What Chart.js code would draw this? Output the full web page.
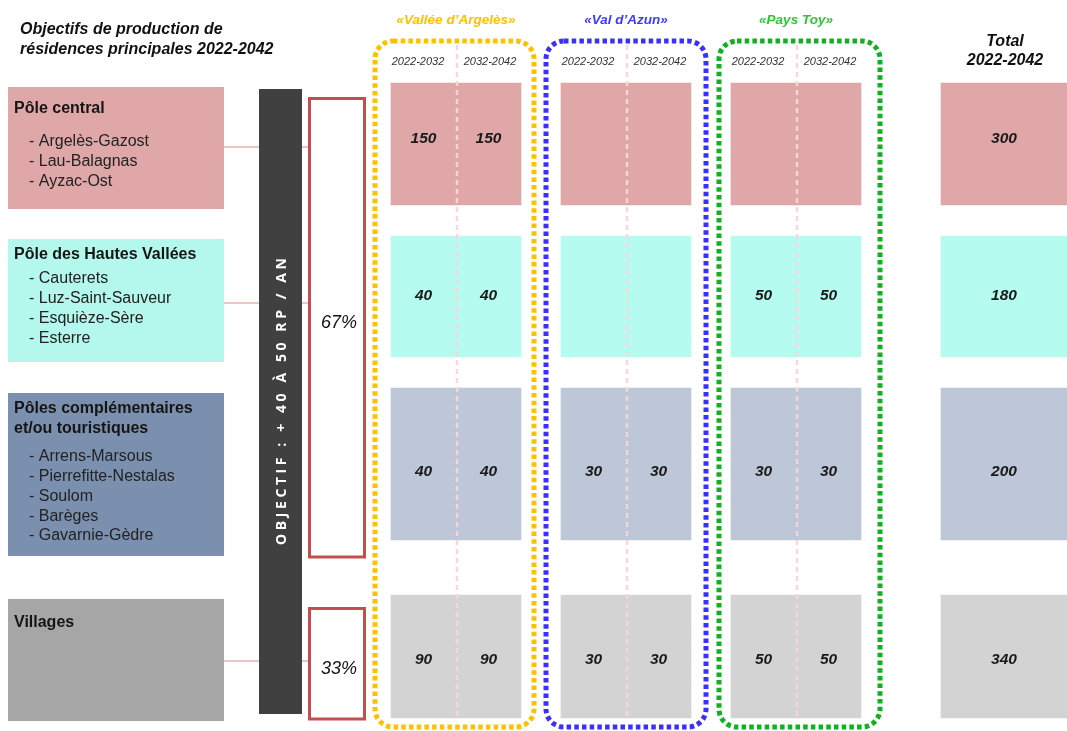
<!DOCTYPE html>
<html lang="fr">
<head>
<meta charset="utf-8">
<title>Objectifs de production de résidences principales 2022-2042</title>
<script src="https://cdn.jsdelivr.net/npm/chart.js@4"></script>
<style>
  html, body { margin: 0; padding: 0; background: #fff; }
  #wrap { width: 1067px; height: 731px; position: relative; }
</style>
</head>
<body>
<div id="wrap"><canvas id="myChart"></canvas></div>
<script>
var titre = ["Objectifs de production de", "résidences principales 2022-2042"];
var poles = ["Pôle central", "Pôle des Hautes Vallées", "Pôles complémentaires\net/ou touristiques", "Villages"];
var communes = [
  ["Argelès-Gazost", "Lau-Balagnas", "Ayzac-Ost"],
  ["Cauterets", "Luz-Saint-Sauveur", "Esquièze-Sère", "Esterre"],
  ["Arrens-Marsous", "Pierrefitte-Nestalas", "Soulom", "Barèges", "Gavarnie-Gèdre"],
  []
];
var secteurs = ["«Vallée d’Argelès»", "«Val d’Azun»", "«Pays Toy»"];
var periodes = ["2022-2032", "2032-2042"];

var argeles2232 = [150, 40, 40, 90];
var argeles3242 = [150, 40, 40, 90];
var azun2232 = [null, null, 30, 30];
var azun3242 = [null, null, 30, 30];
var toy2232 = [null, 50, 30, 50];
var toy3242 = [null, 50, 30, 50];
var total = [300, 180, 200, 340];

var parts = ["67%", "33%"];
var objectif = "OBJECTIF : + 40 À 50 RP / AN";
var totalTitre = ["Total", "2022-2042"];

// mise en page (unites = pixels de l'image)
var rangees = [[83, 205], [236, 357], [388, 540], [595, 718]];
var decalTexte = [-5, -1, 8, 3];
var boites = [[87, 209], [239, 362], [393, 556], [599, 721]];
var titreY = [109, 255, 409, 623];
var listeY = [142, 279, 457, 0];
var liens = [147, 303, null, 661];
var couleursBoite = ["#dfa7a7", "#b4f7ec", "#7b90ae", "#a6a6a6"];
var couleursCase = ["#dfa7a7", "#b6fbef", "#bdc7d7", "#d3d3d3"];
var gauches = [391, 561, 731];
var largeurCol = 65;
var cadres = [[375, 534, "#ffc000", "#ffc000"], [546, 706, "#3b2ffc", "#3b3bff"], [719, 880, "#10b020", "#33c433"]];
var totalX = 941, totalL = 126;

var colonnes = [argeles2232, argeles3242, azun2232, azun3242, toy2232, toy3242];
var centresCol = [];
gauches.forEach(function (g) {
  centresCol.push(g + largeurCol / 2, g + largeurCol * 1.5);
});

var FONT = '"Liberation Sans", Arial, sans-serif';

var datasets = [];
poles.forEach(function (p, r) {
  datasets.push({
    label: p,
    data: colonnes.map(function (serie, c) {
      return { x: centresCol[c], y: rangees[r], v: serie[r] };
    }),
    backgroundColor: couleursCase[r],
    borderWidth: 0,
    barThickness: largeurCol,
    stack: "cases",
    rangee: r
  });
  datasets.push({
    label: p + " total",
    data: [{ x: totalX + totalL / 2, y: rangees[r], v: total[r] }],
    backgroundColor: couleursCase[r],
    borderWidth: 0,
    barThickness: totalL,
    stack: "cases",
    rangee: r
  });
});

function cadreArrondi(ctx, x0, y0, x1, y1, r) {
  ctx.beginPath();
  ctx.moveTo(x0 + r, y0);
  ctx.arcTo(x1, y0, x1, y1, r);
  ctx.arcTo(x1, y1, x0, y1, r);
  ctx.arcTo(x0, y1, x0, y0, r);
  ctx.arcTo(x0, y0, x1, y0, r);
  ctx.closePath();
}

var decor = {
  id: "decor",
  beforeDatasetsDraw: function (chart) {
    var ctx = chart.ctx, X = chart.scales.x, Y = chart.scales.y;
    var px = function (v) { return X.getPixelForValue(v); };
    var py = function (v) { return Y.getPixelForValue(v); };
    ctx.save();
    ctx.textBaseline = "middle";

    // titre
    ctx.fillStyle = "#111";
    ctx.textAlign = "left";
    ctx.font = "italic bold 16px " + FONT;
    titre.forEach(function (t, i) { ctx.fillText(t, px(20), py(30 + i * 20)); });

    // boites de gauche
    poles.forEach(function (p, r) {
      var b = boites[r];
      ctx.fillStyle = couleursBoite[r];
      ctx.fillRect(px(8), py(b[0]), px(224) - px(8), py(b[1]) - py(b[0]));
      ctx.fillStyle = "#151515";
      ctx.font = "bold 16px " + FONT;
      p.split("\n").forEach(function (l, i) { ctx.fillText(l, px(14), py(titreY[r] + i * 19.5)); });
      ctx.font = "16px " + FONT;
      ctx.fillStyle = "#222";
      communes[r].forEach(function (c, i) { ctx.fillText("- " + c, px(29), py(listeY[r] + i * 19.7)); });
    });

    // liens
    ctx.strokeStyle = "#d98c8c";
    ctx.lineWidth = 1.2;
    liens.forEach(function (y) {
      if (y === null) return;
      ctx.beginPath();
      ctx.moveTo(px(224), py(y)); ctx.lineTo(px(259), py(y));
      ctx.moveTo(px(302), py(y)); ctx.lineTo(px(309), py(y));
      ctx.stroke();
    });

    // barre objectif
    ctx.fillStyle = "#404040";
    ctx.fillRect(px(259), py(89), px(302) - px(259), py(714) - py(89));
    ctx.save();
    ctx.translate(px(281), py(401.5));
    ctx.rotate(-Math.PI / 2);
    ctx.fillStyle = "#fff";
    ctx.font = "bold 14px \"Open Sans\", " + FONT;
    var chars = objectif.split(""), somme = 0;
    chars.forEach(function (ch) { somme += ctx.measureText(ch).width; });
    var cible = py(545) - py(258);
    var esp = (cible - somme) / (chars.length - 1);
    var cx = -cible / 2;
    ctx.textAlign = "left";
    chars.forEach(function (ch) { ctx.fillText(ch, cx, 1); cx += ctx.measureText(ch).width + esp; });
    ctx.restore();

    // parts
    ctx.strokeStyle = "#c0504d";
    ctx.lineWidth = 3;
    ctx.strokeRect(px(309.5), py(98.5), px(364.5) - px(309.5), py(557) - py(98.5));
    ctx.strokeRect(px(309.5), py(608.5), px(364.5) - px(309.5), py(719) - py(608.5));
    ctx.fillStyle = "#111";
    ctx.textAlign = "center";
    ctx.font = "italic 18px " + FONT;
    ctx.fillText(parts[0], px(339), py(323));
    ctx.fillText(parts[1], px(339), py(669));

    // cadres pointilles + en-tetes
    cadres.forEach(function (c, g) {
      ctx.save();
      ctx.strokeStyle = c[2];
      ctx.lineWidth = 5;
      ctx.setLineDash([4.5, 3.2]);
      cadreArrondi(ctx, px(c[0]), py(41), px(c[1]), py(727), 18);
      ctx.stroke();
      ctx.restore();
      var mid = gauches[g] + largeurCol;
      ctx.fillStyle = c[3];
      ctx.font = "italic bold 13.5px " + FONT;
      ctx.fillText(secteurs[g], px(mid), py(20));
      ctx.fillStyle = "#333";
      ctx.font = "italic 11px " + FONT;
      ctx.fillText(periodes[0], px(mid - 38), py(62));
      ctx.fillText(periodes[1], px(mid + 34), py(62));
    });

    ctx.fillStyle = "#111";
    ctx.font = "italic bold 16px " + FONT;
    ctx.fillText(totalTitre[0], px(1005), py(42));
    ctx.fillText(totalTitre[1], px(1005), py(61));
    ctx.restore();
  },
  afterDatasetsDraw: function (chart) {
    var ctx = chart.ctx, X = chart.scales.x, Y = chart.scales.y;
    ctx.save();
    // separateurs des periodes
    ctx.strokeStyle = "rgba(246,214,218,0.95)";
    ctx.lineWidth = 2.5;
    ctx.setLineDash([5, 4]);
    gauches.forEach(function (g) {
      var x = X.getPixelForValue(g + largeurCol + 1);
      ctx.beginPath();
      ctx.moveTo(x, Y.getPixelForValue(45));
      ctx.lineTo(x, Y.getPixelForValue(716));
      ctx.stroke();
    });
    ctx.setLineDash([]);
    // valeurs
    ctx.fillStyle = "#1a1a1a";
    ctx.font = "italic bold 15.5px " + FONT;
    ctx.textAlign = "center";
    ctx.textBaseline = "middle";
    chart.data.datasets.forEach(function (ds, i) {
      chart.getDatasetMeta(i).data.forEach(function (el, j) {
        var v = ds.data[j].v;
        if (v === null || v === undefined) return;
        ctx.fillText(String(v), el.x, (el.y + el.base) / 2 + decalTexte[ds.rangee]);
      });
    });
    ctx.restore();
  }
};

var config = {
  type: "bar",
  data: { datasets: datasets },
  options: {
    responsive: true,
    maintainAspectRatio: false,
    animation: false,
    layout: { padding: 0 },
    plugins: { legend: { display: false }, tooltip: { enabled: false } },
    scales: {
      x: { type: "linear", min: 0, max: 1067, offset: false, stacked: true, display: false },
      y: { type: "linear", min: 0, max: 731, reverse: true, stacked: false, display: false }
    }
  },
  plugins: [decor]
};

var myChart = new Chart(document.getElementById("myChart"), config);
</script>
</body>
</html>
